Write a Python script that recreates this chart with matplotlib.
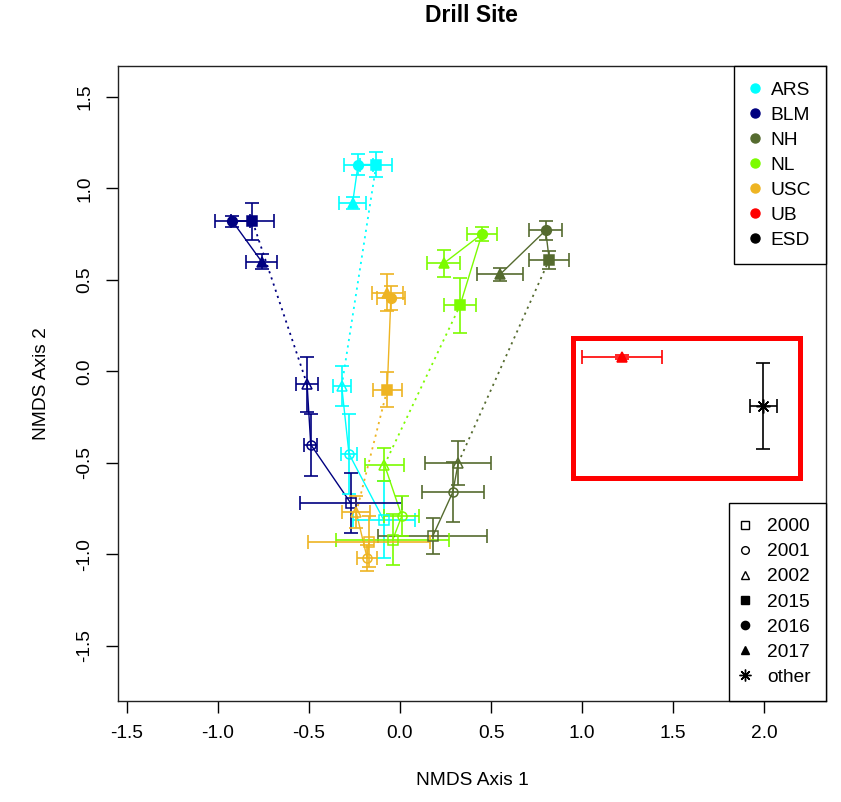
#!/usr/bin/env python3
"""NMDS ordination of drill site soils, 2000-2002 vs 2015-2017."""

import matplotlib
matplotlib.use("Agg")
import matplotlib.pyplot as plt
from matplotlib.lines import Line2D
from matplotlib.patches import Rectangle

plt.rcParams["font.family"] = ["Liberation Sans", "DejaVu Sans"]
plt.rcParams["axes.unicode_minus"] = False

# ── Data ──────────────────────────────────────────────────────────────────────

SITES = ["ARS", "BLM", "NH", "NL", "USC"]
YEARS = ["2000", "2001", "2002", "2015", "2016", "2017"]

# site means per year (rows follow SITES, columns follow YEARS)
AXIS1 = [
    [-0.09, -0.28, -0.32, -0.13, -0.23, -0.26],
    [-0.27, -0.49, -0.51, -0.81, -0.92, -0.76],
    [0.18, 0.29, 0.32, 0.82, 0.80, 0.55],
    [-0.04, 0.01, -0.085, 0.33, 0.45, 0.24],
    [-0.17, -0.18, -0.24, -0.07, -0.05, -0.07],
]
AXIS2 = [
    [-0.81, -0.45, -0.08, 1.13, 1.13, 0.92],
    [-0.72, -0.40, -0.07, 0.82, 0.82, 0.60],
    [-0.90, -0.66, -0.50, 0.61, 0.77, 0.53],
    [-0.92, -0.79, -0.51, 0.36, 0.75, 0.59],
    [-0.93, -1.02, -0.77, -0.10, 0.40, 0.43],
]
# standard errors
SE1 = [
    [0.17, 0.044, 0.05, 0.087, 0.08, 0.073],
    [0.28, 0.035, 0.06, 0.12, 0.096, 0.085],
    [0.30, 0.17, 0.18, 0.11, 0.09, 0.127],
    [0.31, 0.095, 0.107, 0.087, 0.082, 0.09],
    [0.335, 0.056, 0.077, 0.08, 0.075, 0.086],
]
SE2 = [
    [0.21, 0.22, 0.11, 0.07, 0.055, 0.034],
    [0.165, 0.17, 0.15, 0.10, 0.03, 0.04],
    [0.10, 0.165, 0.12, 0.05, 0.05, 0.034],
    [0.14, 0.11, 0.09, 0.15, 0.04, 0.073],
    [0.14, 0.07, 0.087, 0.095, 0.065, 0.10],
]

# single-visit sites
UB_POINT = (1.22, 0.08)
UB_SE = (0.218, 0.01)
ESD_POINT = (1.995, -0.19)
ESD_SE = (0.074, 0.235)

# ── Style ─────────────────────────────────────────────────────────────────────

COLORS = {"ARS": "#00FFFF", "BLM": "#000080", "NH": "#556B2F",
          "NL": "#7CFC00", "USC": "#EEB422", "UB": "#FF0000", "ESD": "#000000"}

# (marker, filled, size)
YEAR_MARKERS = {"2000": ("s", False, 6.5), "2001": ("o", False, 6.5),
                "2002": ("^", False, 7.5), "2015": ("s", True, 7),
                "2016": ("o", True, 7), "2017": ("^", True, 7.5),
                "other": ((8, 2, 0), True, 10)}

DOTTED = (0, (1.2, 2.4))


def draw_point(ax, x, y, xe, ye, color, year):
    ax.errorbar(x, y, xerr=xe, yerr=ye, fmt="none", ecolor=color,
                elinewidth=1.2, capsize=5, capthick=1.2, zorder=2)
    m, filled, ms = YEAR_MARKERS[year]
    ax.plot(x, y, linestyle="none", marker=m, markersize=ms,
            markerfacecolor=color if filled else "none",
            markeredgecolor=color, markeredgewidth=1.1, zorder=3)


# ── Plot ──────────────────────────────────────────────────────────────────────

fig = plt.figure(figsize=(8.41, 8.02), dpi=100)
ax = fig.add_axes([0.1400, 0.1260, 0.8422, 0.7917])

for i, site in enumerate(SITES):
    c = COLORS[site]
    xs, ys = AXIS1[i], AXIS2[i]
    ax.plot(xs[:3], ys[:3], "-", color=c, lw=1.0, zorder=1)
    ax.plot(xs[2:4], ys[2:4], linestyle=DOTTED, color=c, lw=1.3, zorder=1)
    ax.plot(xs[3:], ys[3:], "-", color=c, lw=1.0, zorder=1)
    for j, year in enumerate(YEARS):
        draw_point(ax, xs[j], ys[j], SE1[i][j], SE2[i][j], c, year)

draw_point(ax, *UB_POINT, *UB_SE, COLORS["UB"], "2017")
draw_point(ax, *ESD_POINT, *ESD_SE, COLORS["ESD"], "other")

# highlight box around the single-visit sites
ax.add_patch(Rectangle((0.952, -0.582), 1.244, 0.765, fill=False,
                       edgecolor="#FF0000", lw=3.6, zorder=4))

ax.set_xlim(-1.55, 2.34)
ax.set_ylim(-1.80, 1.668)
ax.set_xticks([-1.5, -1.0, -0.5, 0.0, 0.5, 1.0, 1.5, 2.0])
ax.set_yticks([-1.5, -1.0, -0.5, 0.0, 0.5, 1.0, 1.5])
ax.tick_params(axis="both", length=8.6, width=1.0, labelsize=13.8, pad=9)
for lab in ax.get_yticklabels():
    lab.set_rotation(90)
    lab.set_va("center")
for sp in ax.spines.values():
    sp.set_linewidth(1.0)
    sp.set_color("#222222")

ax.set_title("Drill Site", fontsize=16.5, fontweight="bold", pad=32)
ax.set_xlabel("NMDS Axis 1", fontsize=13.8, labelpad=21)
ax.set_ylabel("NMDS Axis 2", fontsize=13.8, labelpad=19)

legend_kw = dict(borderaxespad=0, fontsize=13.8, labelspacing=0.40,
                 borderpad=0.79, fancybox=False, edgecolor="black",
                 framealpha=1)

# site legend
site_handles = [Line2D([], [], linestyle="none", marker="o", markersize=6.5,
                       color=COLORS[s]) for s in COLORS]
leg1 = ax.legend(site_handles, list(COLORS), loc="upper right",
                 handlelength=0.63, handletextpad=0.47, **legend_kw)
leg1.get_frame().set_linewidth(1.0)
ax.add_artist(leg1)

# year legend
year_handles = []
for year in YEARS + ["other"]:
    m, filled, ms = YEAR_MARKERS[year]
    year_handles.append(Line2D([], [], linestyle="none", marker=m,
                               markersize=ms * 0.85, markeredgecolor="black",
                               markerfacecolor="black" if filled else "none",
                               markeredgewidth=1.0))
leg2 = ax.legend(year_handles, YEARS + ["other"], loc="lower right",
                 handlelength=0.1, handletextpad=1.1, **legend_kw)
leg2.get_frame().set_linewidth(1.0)

fig.savefig("out.png", dpi=100)
